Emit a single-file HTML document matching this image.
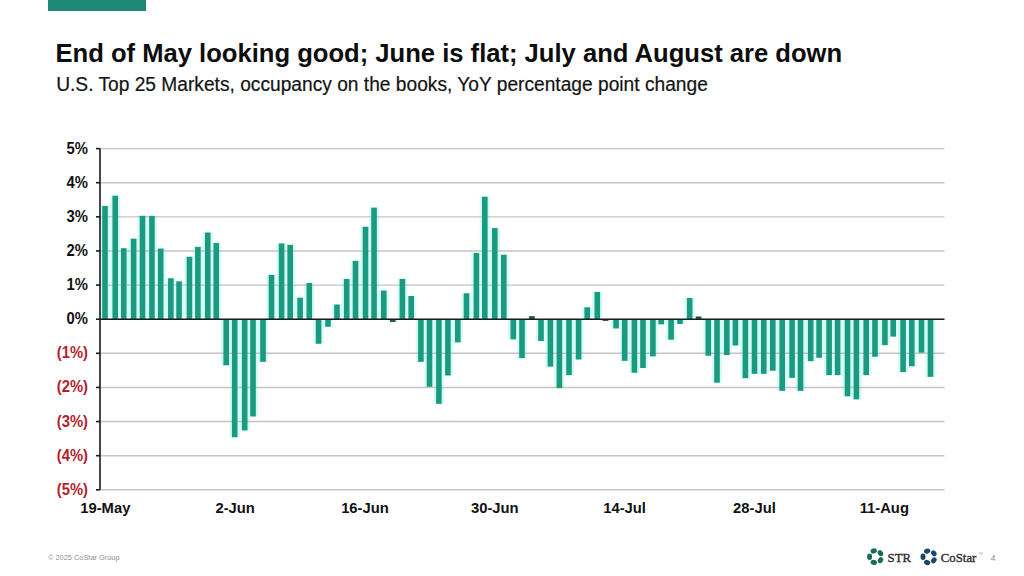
<!DOCTYPE html>
<html>
<head>
<meta charset="utf-8">
<style>
html,body{margin:0;padding:0;background:#fff;}
body{width:1024px;height:576px;position:relative;overflow:hidden;font-family:"Liberation Sans",sans-serif;}
.topbar{position:absolute;left:48px;top:0;width:98px;height:11px;background:#1f8775;}
svg{position:absolute;left:0;top:0;}
</style>
</head>
<body>
<div class="topbar"></div>
<svg width="1024" height="576" viewBox="0 0 1024 576">
<g fill="#d6fbf5">
<rect x="99.90" y="205.72" width="10.20" height="113.68"/>
<rect x="110.15" y="195.49" width="10.20" height="123.91"/>
<rect x="118.65" y="248.03" width="10.20" height="71.37"/>
<rect x="128.55" y="238.48" width="10.20" height="80.92"/>
<rect x="137.40" y="215.62" width="10.20" height="103.78"/>
<rect x="146.85" y="215.62" width="10.20" height="103.78"/>
<rect x="155.60" y="248.37" width="10.20" height="71.03"/>
<rect x="165.75" y="278.06" width="10.20" height="41.34"/>
<rect x="173.95" y="281.13" width="10.20" height="38.27"/>
<rect x="184.35" y="256.56" width="10.20" height="62.84"/>
<rect x="192.80" y="246.67" width="10.20" height="72.73"/>
<rect x="202.65" y="232.34" width="10.20" height="87.06"/>
<rect x="211.15" y="242.91" width="10.20" height="76.49"/>
<rect x="221.10" y="319.00" width="10.20" height="46.46"/>
<rect x="229.60" y="319.00" width="10.20" height="118.46"/>
<rect x="239.60" y="319.00" width="10.20" height="111.63"/>
<rect x="247.90" y="319.00" width="10.20" height="97.64"/>
<rect x="257.90" y="319.00" width="10.20" height="43.05"/>
<rect x="266.40" y="274.64" width="10.20" height="44.76"/>
<rect x="276.50" y="243.25" width="10.20" height="76.15"/>
<rect x="285.10" y="244.62" width="10.20" height="74.78"/>
<rect x="295.00" y="297.50" width="10.20" height="21.90"/>
<rect x="304.20" y="282.83" width="10.20" height="36.57"/>
<rect x="313.49" y="319.00" width="10.20" height="24.97"/>
<rect x="322.90" y="319.00" width="10.20" height="7.91"/>
<rect x="331.90" y="304.33" width="10.20" height="15.07"/>
<rect x="341.60" y="278.74" width="10.20" height="40.66"/>
<rect x="350.40" y="260.65" width="10.20" height="58.75"/>
<rect x="360.40" y="226.53" width="10.20" height="92.87"/>
<rect x="368.95" y="207.43" width="10.20" height="111.97"/>
<rect x="378.70" y="290.34" width="10.20" height="29.06"/>
<rect x="387.68" y="319.00" width="10.20" height="3.13"/>
<rect x="397.30" y="278.74" width="10.20" height="40.66"/>
<rect x="406.10" y="295.80" width="10.20" height="23.60"/>
<rect x="415.80" y="319.00" width="10.20" height="43.05"/>
<rect x="424.40" y="319.00" width="10.20" height="67.96"/>
<rect x="433.80" y="319.00" width="10.20" height="85.02"/>
<rect x="442.80" y="319.00" width="10.20" height="56.70"/>
<rect x="452.70" y="319.00" width="10.20" height="23.60"/>
<rect x="461.40" y="293.07" width="10.20" height="26.33"/>
<rect x="471.30" y="252.81" width="10.20" height="66.59"/>
<rect x="479.70" y="196.51" width="10.20" height="122.89"/>
<rect x="489.70" y="227.90" width="10.20" height="91.50"/>
<rect x="498.70" y="254.51" width="10.20" height="64.89"/>
<rect x="508.20" y="319.00" width="10.20" height="20.53"/>
<rect x="516.90" y="319.00" width="10.20" height="39.30"/>
<rect x="526.78" y="315.93" width="10.20" height="3.47"/>
<rect x="535.90" y="319.00" width="10.20" height="22.24"/>
<rect x="545.30" y="319.00" width="10.20" height="47.83"/>
<rect x="554.30" y="319.00" width="10.20" height="69.32"/>
<rect x="563.90" y="319.00" width="10.20" height="56.36"/>
<rect x="573.50" y="319.00" width="10.20" height="40.66"/>
<rect x="582.10" y="307.06" width="10.20" height="12.34"/>
<rect x="592.20" y="291.70" width="10.20" height="27.70"/>
<rect x="600.40" y="319.00" width="10.20" height="2.11"/>
<rect x="611.00" y="319.00" width="10.20" height="9.61"/>
<rect x="619.60" y="319.00" width="10.20" height="42.03"/>
<rect x="629.30" y="319.00" width="10.20" height="53.97"/>
<rect x="637.90" y="319.00" width="10.20" height="49.19"/>
<rect x="647.80" y="319.00" width="10.20" height="37.59"/>
<rect x="656.10" y="319.00" width="10.20" height="5.52"/>
<rect x="666.00" y="319.00" width="10.20" height="20.87"/>
<rect x="674.90" y="319.00" width="10.20" height="5.18"/>
<rect x="684.60" y="297.85" width="10.20" height="21.55"/>
<rect x="693.50" y="316.27" width="10.20" height="3.13"/>
<rect x="703.20" y="319.00" width="10.20" height="36.91"/>
<rect x="711.90" y="319.00" width="10.20" height="63.86"/>
<rect x="721.70" y="319.00" width="10.20" height="36.23"/>
<rect x="730.30" y="319.00" width="10.20" height="26.67"/>
<rect x="740.30" y="319.00" width="10.20" height="59.43"/>
<rect x="749.40" y="319.00" width="10.20" height="54.99"/>
<rect x="758.65" y="319.00" width="10.20" height="54.99"/>
<rect x="767.70" y="319.00" width="10.20" height="51.92"/>
<rect x="777.10" y="319.00" width="10.20" height="72.05"/>
<rect x="787.00" y="319.00" width="10.20" height="59.09"/>
<rect x="795.40" y="319.00" width="10.20" height="72.05"/>
<rect x="805.60" y="319.00" width="10.20" height="42.37"/>
<rect x="814.00" y="319.00" width="10.20" height="38.96"/>
<rect x="824.00" y="319.00" width="10.20" height="56.36"/>
<rect x="832.50" y="319.00" width="10.20" height="56.36"/>
<rect x="842.40" y="319.00" width="10.20" height="77.51"/>
<rect x="851.30" y="319.00" width="10.20" height="80.58"/>
<rect x="861.10" y="319.00" width="10.20" height="56.36"/>
<rect x="869.90" y="319.00" width="10.20" height="37.93"/>
<rect x="879.80" y="319.00" width="10.20" height="26.33"/>
<rect x="888.10" y="319.00" width="10.20" height="17.80"/>
<rect x="898.00" y="319.00" width="10.20" height="53.29"/>
<rect x="906.70" y="319.00" width="10.20" height="47.49"/>
<rect x="916.40" y="319.00" width="10.20" height="33.84"/>
<rect x="925.40" y="319.00" width="10.20" height="58.06"/>
</g>
<g stroke="#c4c4c4" stroke-width="1.4" fill="none">
<line x1="100" y1="148.60" x2="944.5" y2="148.60"/>
<line x1="100" y1="182.72" x2="944.5" y2="182.72"/>
<line x1="100" y1="216.84" x2="944.5" y2="216.84"/>
<line x1="100" y1="250.96" x2="944.5" y2="250.96"/>
<line x1="100" y1="285.08" x2="944.5" y2="285.08"/>
<line x1="100" y1="353.32" x2="944.5" y2="353.32"/>
<line x1="100" y1="387.44" x2="944.5" y2="387.44"/>
<line x1="100" y1="421.56" x2="944.5" y2="421.56"/>
<line x1="100" y1="455.68" x2="944.5" y2="455.68"/>
<line x1="100" y1="489.80" x2="944.5" y2="489.80"/>
</g>
<g fill="#1a9a80">
<rect x="102.20" y="205.92" width="5.6" height="113.28"/>
<rect x="112.45" y="195.69" width="5.6" height="123.51"/>
<rect x="120.95" y="248.23" width="5.6" height="70.97"/>
<rect x="130.85" y="238.68" width="5.6" height="80.52"/>
<rect x="139.70" y="215.82" width="5.6" height="103.38"/>
<rect x="149.15" y="215.82" width="5.6" height="103.38"/>
<rect x="157.90" y="248.57" width="5.6" height="70.63"/>
<rect x="168.05" y="278.26" width="5.6" height="40.94"/>
<rect x="176.25" y="281.33" width="5.6" height="37.87"/>
<rect x="186.65" y="256.76" width="5.6" height="62.44"/>
<rect x="195.10" y="246.87" width="5.6" height="72.33"/>
<rect x="204.95" y="232.54" width="5.6" height="86.66"/>
<rect x="213.45" y="243.11" width="5.6" height="76.09"/>
<rect x="223.40" y="319.20" width="5.6" height="46.06"/>
<rect x="231.90" y="319.20" width="5.6" height="118.06"/>
<rect x="241.90" y="319.20" width="5.6" height="111.23"/>
<rect x="250.20" y="319.20" width="5.6" height="97.24"/>
<rect x="260.20" y="319.20" width="5.6" height="42.65"/>
<rect x="268.70" y="274.84" width="5.6" height="44.36"/>
<rect x="278.80" y="243.45" width="5.6" height="75.75"/>
<rect x="287.40" y="244.82" width="5.6" height="74.38"/>
<rect x="297.30" y="297.70" width="5.6" height="21.50"/>
<rect x="306.50" y="283.03" width="5.6" height="36.17"/>
<rect x="315.79" y="319.20" width="5.6" height="24.57"/>
<rect x="325.20" y="319.20" width="5.6" height="7.51"/>
<rect x="334.20" y="304.53" width="5.6" height="14.67"/>
<rect x="343.90" y="278.94" width="5.6" height="40.26"/>
<rect x="352.70" y="260.85" width="5.6" height="58.35"/>
<rect x="362.70" y="226.73" width="5.6" height="92.47"/>
<rect x="371.25" y="207.63" width="5.6" height="111.57"/>
<rect x="381.00" y="290.54" width="5.6" height="28.66"/>
<rect fill="#2d5248" x="389.98" y="319.20" width="5.6" height="2.73"/>
<rect x="399.60" y="278.94" width="5.6" height="40.26"/>
<rect x="408.40" y="296.00" width="5.6" height="23.20"/>
<rect x="418.10" y="319.20" width="5.6" height="42.65"/>
<rect x="426.70" y="319.20" width="5.6" height="67.56"/>
<rect x="436.10" y="319.20" width="5.6" height="84.62"/>
<rect x="445.10" y="319.20" width="5.6" height="56.30"/>
<rect x="455.00" y="319.20" width="5.6" height="23.20"/>
<rect x="463.70" y="293.27" width="5.6" height="25.93"/>
<rect x="473.60" y="253.01" width="5.6" height="66.19"/>
<rect x="482.00" y="196.71" width="5.6" height="122.49"/>
<rect x="492.00" y="228.10" width="5.6" height="91.10"/>
<rect x="501.00" y="254.71" width="5.6" height="64.49"/>
<rect x="510.50" y="319.20" width="5.6" height="20.13"/>
<rect x="519.20" y="319.20" width="5.6" height="38.90"/>
<rect fill="#2d5248" x="529.08" y="316.13" width="5.6" height="3.07"/>
<rect x="538.20" y="319.20" width="5.6" height="21.84"/>
<rect x="547.60" y="319.20" width="5.6" height="47.43"/>
<rect x="556.60" y="319.20" width="5.6" height="68.92"/>
<rect x="566.20" y="319.20" width="5.6" height="55.96"/>
<rect x="575.80" y="319.20" width="5.6" height="40.26"/>
<rect x="584.40" y="307.26" width="5.6" height="11.94"/>
<rect x="594.50" y="291.90" width="5.6" height="27.30"/>
<rect fill="#2d5248" x="602.70" y="319.20" width="5.6" height="1.71"/>
<rect x="613.30" y="319.20" width="5.6" height="9.21"/>
<rect x="621.90" y="319.20" width="5.6" height="41.63"/>
<rect x="631.60" y="319.20" width="5.6" height="53.57"/>
<rect x="640.20" y="319.20" width="5.6" height="48.79"/>
<rect x="650.10" y="319.20" width="5.6" height="37.19"/>
<rect x="658.40" y="319.20" width="5.6" height="5.12"/>
<rect x="668.30" y="319.20" width="5.6" height="20.47"/>
<rect x="677.20" y="319.20" width="5.6" height="4.78"/>
<rect x="686.90" y="298.05" width="5.6" height="21.15"/>
<rect fill="#2d5248" x="695.80" y="316.47" width="5.6" height="2.73"/>
<rect x="705.50" y="319.20" width="5.6" height="36.51"/>
<rect x="714.20" y="319.20" width="5.6" height="63.46"/>
<rect x="724.00" y="319.20" width="5.6" height="35.83"/>
<rect x="732.60" y="319.20" width="5.6" height="26.27"/>
<rect x="742.60" y="319.20" width="5.6" height="59.03"/>
<rect x="751.70" y="319.20" width="5.6" height="54.59"/>
<rect x="760.95" y="319.20" width="5.6" height="54.59"/>
<rect x="770.00" y="319.20" width="5.6" height="51.52"/>
<rect x="779.40" y="319.20" width="5.6" height="71.65"/>
<rect x="789.30" y="319.20" width="5.6" height="58.69"/>
<rect x="797.70" y="319.20" width="5.6" height="71.65"/>
<rect x="807.90" y="319.20" width="5.6" height="41.97"/>
<rect x="816.30" y="319.20" width="5.6" height="38.56"/>
<rect x="826.30" y="319.20" width="5.6" height="55.96"/>
<rect x="834.80" y="319.20" width="5.6" height="55.96"/>
<rect x="844.70" y="319.20" width="5.6" height="77.11"/>
<rect x="853.60" y="319.20" width="5.6" height="80.18"/>
<rect x="863.40" y="319.20" width="5.6" height="55.96"/>
<rect x="872.20" y="319.20" width="5.6" height="37.53"/>
<rect x="882.10" y="319.20" width="5.6" height="25.93"/>
<rect x="890.40" y="319.20" width="5.6" height="17.40"/>
<rect x="900.30" y="319.20" width="5.6" height="52.89"/>
<rect x="909.00" y="319.20" width="5.6" height="47.09"/>
<rect x="918.70" y="319.20" width="5.6" height="33.44"/>
<rect x="927.70" y="319.20" width="5.6" height="57.66"/>
</g>
<g stroke="#1a1a1a" stroke-width="1.6">
<line x1="96" y1="148.60" x2="100" y2="148.60"/>
<line x1="96" y1="182.72" x2="100" y2="182.72"/>
<line x1="96" y1="216.84" x2="100" y2="216.84"/>
<line x1="96" y1="250.96" x2="100" y2="250.96"/>
<line x1="96" y1="285.08" x2="100" y2="285.08"/>
<line x1="96" y1="319.20" x2="100" y2="319.20"/>
<line x1="96" y1="353.32" x2="100" y2="353.32"/>
<line x1="96" y1="387.44" x2="100" y2="387.44"/>
<line x1="96" y1="421.56" x2="100" y2="421.56"/>
<line x1="96" y1="455.68" x2="100" y2="455.68"/>
<line x1="96" y1="489.80" x2="100" y2="489.80"/>
<line x1="100" y1="148.60" x2="100" y2="489.80"/>
<line x1="100" y1="319.20" x2="944.5" y2="319.20"/>
</g>
<g font-family="Liberation Sans" font-weight="bold" font-size="14.8">
<text transform="translate(88,153.60) scale(1.0,1.08)" text-anchor="end" fill="#111">5%</text>
<text transform="translate(88,187.72) scale(1.0,1.08)" text-anchor="end" fill="#111">4%</text>
<text transform="translate(88,221.84) scale(1.0,1.08)" text-anchor="end" fill="#111">3%</text>
<text transform="translate(88,255.96) scale(1.0,1.08)" text-anchor="end" fill="#111">2%</text>
<text transform="translate(88,290.08) scale(1.0,1.08)" text-anchor="end" fill="#111">1%</text>
<text transform="translate(88,324.20) scale(1.0,1.08)" text-anchor="end" fill="#111">0%</text>
<text transform="translate(88,358.32) scale(1.0,1.08)" text-anchor="end" fill="#b41e2e">(1%)</text>
<text transform="translate(88,392.44) scale(1.0,1.08)" text-anchor="end" fill="#b41e2e">(2%)</text>
<text transform="translate(88,426.56) scale(1.0,1.08)" text-anchor="end" fill="#b41e2e">(3%)</text>
<text transform="translate(88,460.68) scale(1.0,1.08)" text-anchor="end" fill="#b41e2e">(4%)</text>
<text transform="translate(88,494.80) scale(1.0,1.08)" text-anchor="end" fill="#b41e2e">(5%)</text>
</g>
<g font-family="Liberation Sans" font-weight="bold" font-size="14.8" fill="#111">
<text transform="translate(105.29,512.8) scale(1.0,1.05)" text-anchor="middle">19-May</text>
<text transform="translate(235.12,512.8) scale(1.0,1.05)" text-anchor="middle">2-Jun</text>
<text transform="translate(364.96,512.8) scale(1.0,1.05)" text-anchor="middle">16-Jun</text>
<text transform="translate(494.79,512.8) scale(1.0,1.05)" text-anchor="middle">30-Jun</text>
<text transform="translate(624.62,512.8) scale(1.0,1.05)" text-anchor="middle">14-Jul</text>
<text transform="translate(754.46,512.8) scale(1.0,1.05)" text-anchor="middle">28-Jul</text>
<text transform="translate(884.29,512.8) scale(1.0,1.05)" text-anchor="middle">11-Aug</text>
</g>
<text transform="translate(55.5,62.0) scale(1.012,1)" font-family="Liberation Sans" font-weight="bold" font-size="25.3" fill="#0d0d0d">End of May looking good; June is flat; July and August are down</text>
<text transform="translate(56.2,90.6) scale(1.01,1.07)" font-family="Liberation Sans" font-size="19.0" fill="#141414" stroke="#141414" stroke-width="0.2">U.S. Top 25 Markets, occupancy on the books, YoY percentage point change</text>
<!-- logos -->
<g fill="#1b6b57"><ellipse cx="869.60" cy="556.70" rx="2.5" ry="3.2" transform="rotate(180 869.60 556.70)"/><ellipse cx="880.45" cy="560.23" rx="2.5" ry="3.2" transform="rotate(36 880.45 560.23)"/><ellipse cx="880.45" cy="553.17" rx="2.5" ry="3.2" transform="rotate(-36 880.45 553.17)"/><ellipse cx="873.75" cy="562.41" rx="2.5" ry="3.2" transform="rotate(108 873.75 562.41)"/><ellipse cx="873.75" cy="550.99" rx="2.5" ry="3.2" transform="rotate(-108 873.75 550.99)"/></g>
<text x="887.6" y="561.8" font-family="Liberation Serif" font-size="12.7" fill="#2b2b2b" stroke="#2b2b2b" stroke-width="0.35">STR</text>
<g fill="#1c4867"><ellipse cx="923.00" cy="556.80" rx="2.5" ry="3.2" transform="rotate(180 923.00 556.80)"/><ellipse cx="933.85" cy="560.33" rx="2.5" ry="3.2" transform="rotate(36 933.85 560.33)"/><ellipse cx="933.85" cy="553.27" rx="2.5" ry="3.2" transform="rotate(-36 933.85 553.27)"/><ellipse cx="927.15" cy="562.51" rx="2.5" ry="3.2" transform="rotate(108 927.15 562.51)"/><ellipse cx="927.15" cy="551.09" rx="2.5" ry="3.2" transform="rotate(-108 927.15 551.09)"/></g>
<text x="940.8" y="561.8" font-family="Liberation Serif" font-size="12.8" fill="#2b2b2b" stroke="#2b2b2b" stroke-width="0.35">CoStar</text>
<text x="978.5" y="555" font-family="Liberation Sans" font-size="3" fill="#aaa">TM</text>
<text x="990.8" y="560.8" font-family="Liberation Sans" font-size="8.4" fill="#8a8a8a">4</text>
<text x="48" y="560.2" font-family="Liberation Sans" font-size="7.4" fill="#8f8f8f">© 2025 CoStar Group</text>
</svg>
</body>
</html>
